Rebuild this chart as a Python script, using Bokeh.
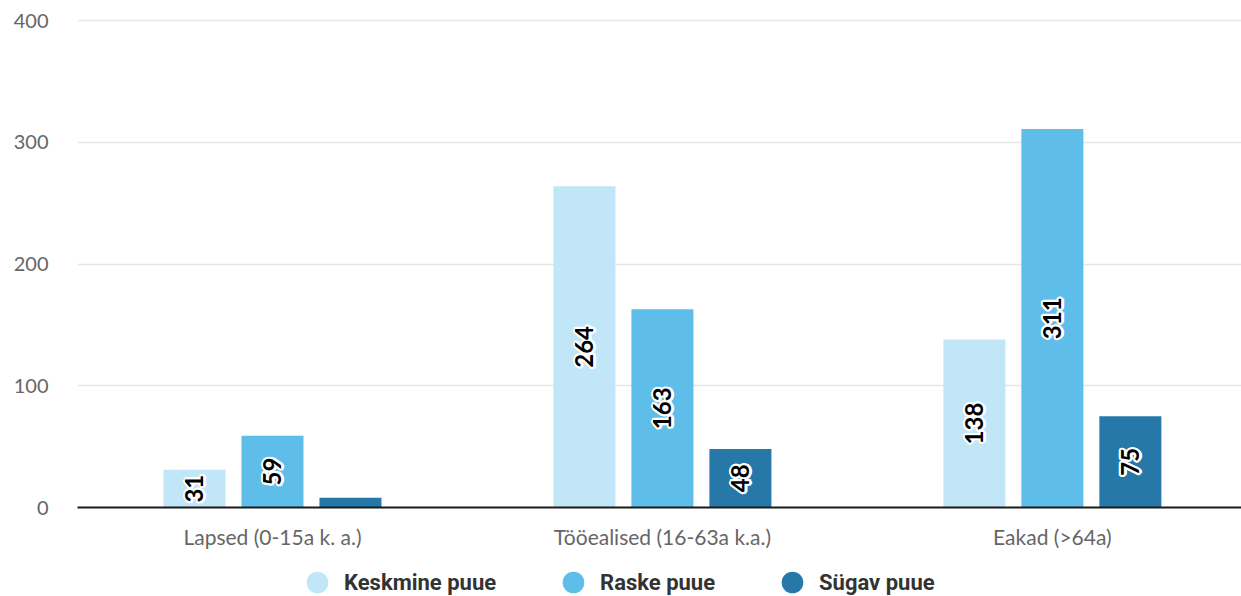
import math
from bokeh.plotting import figure
from bokeh.layouts import column
from bokeh.models import Range1d, FixedTicker, ColumnDataSource, Legend, LegendItem
from bokeh.core.properties import value
from bokeh.embed import file_html
from bokeh.resources import INLINE

categories = ["Lapsed (0-15a k. a.)", "Tööealised (16-63a k.a.)", "Eakad (>64a)"]
series_names = ["Keskmine puue", "Raske puue", "Sügav puue"]
keskmine = [31, 264, 138]
raske = [59, 163, 311]
sugav = [8, 48, 75]
series_values = [keskmine, raske, sugav]
colors = ["#c1e6f7", "#5fbde9", "#2578a8"]
y_ticks = [0, 100, 200, 300, 400]

offsets = [-0.2, 0.0, 0.2]
bar_w = 0.159

p = figure(width=1241, height=552, x_range=Range1d(0, 2.985), y_range=Range1d(0, 401),
           output_backend="svg", toolbar_location=None,
           min_border_left=77, min_border_right=0, min_border_top=19, min_border_bottom=45)
p.outline_line_color = None
p.background_fill_color = "white"

# grid
p.xgrid.grid_line_color = None
p.ygrid.grid_line_color = "#e6e6e6"
p.ygrid.grid_line_width = 1.5

# axes
p.yaxis.ticker = FixedTicker(ticks=y_ticks)
p.yaxis.axis_line_color = None
p.yaxis.major_tick_line_color = None
p.yaxis.minor_tick_line_color = None
p.yaxis.major_label_standoff = 23
p.yaxis.major_label_text_font = "Lato"
p.yaxis.major_label_text_font_size = "20px"
p.yaxis.major_label_text_color = "#666666"

centers = [i + 0.5 for i in range(len(categories))]
p.xaxis.ticker = FixedTicker(ticks=centers)
p.xaxis.major_label_overrides = {c: lab for c, lab in zip(centers, categories)}
p.xaxis.axis_line_color = "#1a1a1a"
p.xaxis.axis_line_width = 2
p.xaxis.major_tick_line_color = None
p.xaxis.minor_tick_line_color = None
p.xaxis.major_label_standoff = 10
p.xaxis.major_label_text_font = "Lato"
p.xaxis.major_label_text_font_size = "21px"
p.xaxis.major_label_text_color = "#666666"

for name, vals, col, off in zip(series_names, series_values, colors, offsets):
    xs = [c + off for c in centers]
    p.vbar(x=xs, top=vals, width=bar_w, fill_color=col, line_color=None)

# data labels (rotated, black with white halo)
lx, ly, lt = [], [], []
for vals, off in zip(series_values, offsets):
    for c, v in zip(centers, vals):
        if v >= 20:
            lx.append(c + off)
            ly.append(v / 2)
            lt.append(str(v))
src = ColumnDataSource(dict(x=lx, y=ly, t=lt))
halo_r = 2.2
for k in range(12):
    a = 2 * math.pi * k / 12
    p.text(x="x", y="y", text="t", source=src, angle=math.pi / 2,
           x_offset=halo_r * math.cos(a), y_offset=halo_r * math.sin(a),
           text_align="center", text_baseline="middle",
           text_font=value("Lato"), text_font_style="bold", text_font_size="24px",
           text_color="white")
p.text(x="x", y="y", text="t", source=src, angle=math.pi / 2,
       text_align="center", text_baseline="middle",
       text_font=value("Lato"), text_font_style="bold", text_font_size="24px",
       text_color="black")

# legend strip below the chart
lf = figure(width=1241, height=44, x_range=Range1d(0, 1), y_range=Range1d(0, 1),
            output_backend="svg", toolbar_location=None,
            min_border_left=0, min_border_right=0, min_border_top=0, min_border_bottom=0)
lf.axis.visible = False
lf.grid.visible = False
lf.outline_line_color = None
legend_items = []
nan = float("nan")
for name, col in zip(series_names, colors):
    proxy = lf.scatter(x=[nan], y=[nan], marker="circle", fill_color=col, line_color=None)
    legend_items.append(LegendItem(label=name, renderers=[proxy]))
legend = Legend(items=legend_items, orientation="horizontal", location=(213, -13),
                glyph_width=54, glyph_height=54, label_standoff=-2, spacing=50,
                padding=0, margin=0, border_line_color=None, background_fill_alpha=0,
                label_text_font="Roboto", label_text_font_style="bold",
                label_text_font_size="22px", label_text_color="#333333")
lf.add_layout(legend, "center")

layout = column(p, lf, spacing=0)
open("out.html", "w").write(file_html(layout, INLINE))
